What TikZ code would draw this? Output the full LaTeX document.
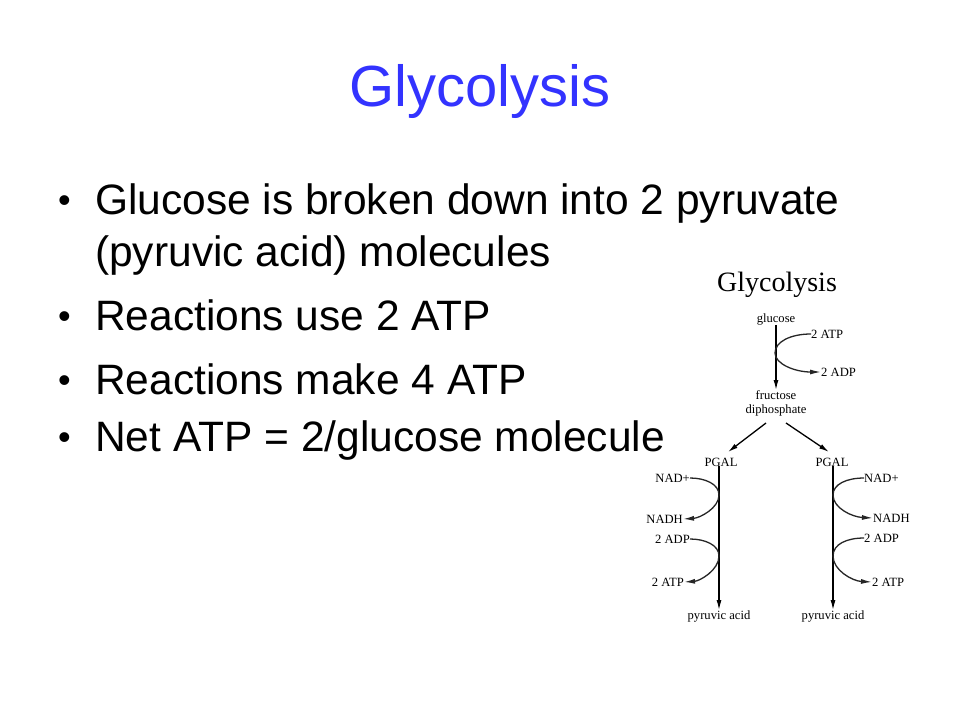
\documentclass[tikz,border=0pt]{standalone}
\usepackage{fontspec}
\setmainfont{Liberation Sans}
\newfontfamily\tnr{Liberation Serif}
\usetikzlibrary{arrows.meta}
\definecolor{ttl}{HTML}{3333FF}
\begin{document}
\begin{tikzpicture}[x=1pt,y=-1pt,
  bul/.style={anchor=west,font=\fontsize{42.5}{46}\selectfont,inner sep=0},
  lab/.style={font=\tnr\fontsize{12.6}{14}\selectfont,inner sep=0},
  arr/.style={-{Latex[length=10pt,width=5pt]},line width=1.3pt},
  cur/.style={-{Latex[length=11pt,width=5pt]},line width=1.3pt,gray!30!black}]
\useasboundingbox[fill=white] (0,0) rectangle (960,720);
\node[font=\fontsize{58}{64}\selectfont,text=ttl] (title) at (480,92) {Glycolysis};
\foreach \y/\t in {200/{Glucose is broken down into 2 pyruvate},252/{(pyruvic acid) molecules},316/{Reactions use 2 ATP},380/{Reactions make 4 ATP},437/{Net ATP = 2/glucose molecule}}{
  \node[bul,anchor=base west] at (95,\y+14) {\t};}
\foreach \y in {200,316,380,437}{\node[bul,anchor=base west,font=\fontsize{36}{40}\selectfont] at (58,\y+12) {•};}
% diagram
\node[font=\tnr\fontsize{28}{30}\selectfont] (dt) at (777,285) {Glycolysis};
\node[lab] (glu) at (776,319) {glucose};
\node[lab,align=center] (fru) at (776,403) {fructose\\diphosphate};
\node[lab] (pl) at (721,462) {PGAL};
\node[lab] (pr) at (832,462) {PGAL};
\node[lab] (yl) at (719,616) {pyruvic acid};
\node[lab] (yr) at (833,616) {pyruvic acid};
\node[lab,anchor=west] (atp1) at (811,334) {2 ATP};
\node[lab,anchor=west] (adp1) at (821,372) {2 ADP};
\node[lab,anchor=east] (nl1) at (690,478) {NAD+};
\node[lab,anchor=east] (nl2) at (683,519) {NADH};
\node[lab,anchor=east] (al1) at (690,539) {2 ADP};
\node[lab,anchor=east] (al2) at (684,582) {2 ATP};
\node[lab,anchor=west] (nr1) at (864,478) {NAD+};
\node[lab,anchor=west] (nr2) at (873,518) {NADH};
\node[lab,anchor=west] (ar1) at (864,538) {2 ADP};
\node[lab,anchor=west] (ar2) at (872,582) {2 ATP};
\draw[arr] (glu) -- (fru);
\draw[arr] (766,423) -- (728,452);
\draw[arr] (786,423) -- (829,452);
\draw[arr] (yl.north |- pl.south) -- (yl);
\draw[arr] (yr.north |- pr.south) -- (yr);
\draw[cur] (atp1.west) .. controls (790,334) and (775,342) .. (775,353) .. controls (775,364) and (795,372) .. (adp1.west);
\draw[cur] (nl1.east) .. controls (705,478) and (719,484) .. (719,495) .. controls (719,508) and (700,518) .. (nl2.east);
\draw[cur] (al1.east) .. controls (705,539) and (719,545) .. (719,556) .. controls (719,570) and (700,581) .. (al2.east);
\draw[cur] (nr1.west) .. controls (847,478) and (833,484) .. (833,495) .. controls (833,508) and (852,517) .. (nr2.west);
\draw[cur] (ar1.west) .. controls (847,538) and (833,544) .. (833,556) .. controls (833,570) and (852,581) .. (ar2.west);
\end{tikzpicture}
\end{document}
